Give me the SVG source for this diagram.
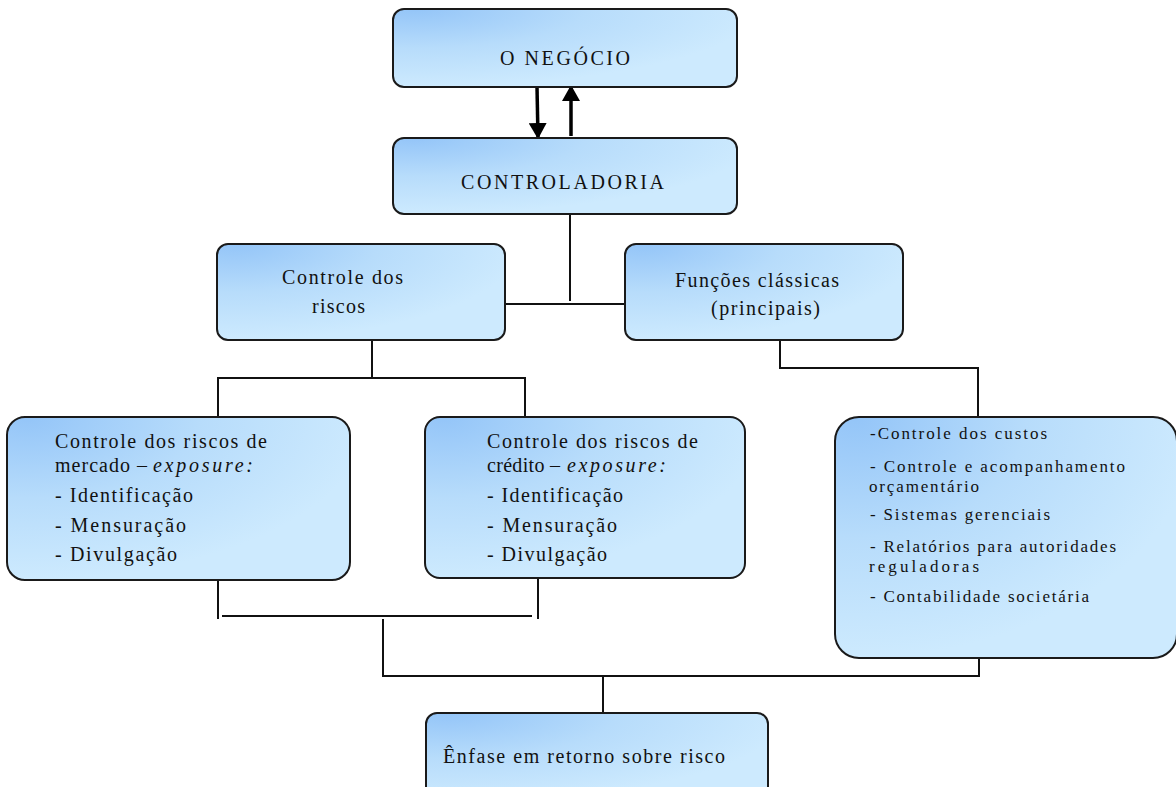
<svg xmlns="http://www.w3.org/2000/svg" width="1176" height="787" viewBox="0 0 1176 787">
  <defs>
    <radialGradient id="boxFill" cx="0.06" cy="0.0" r="1.0" fx="0.06" fy="0.0">
      <stop offset="0" stop-color="#94c5f8"/>
      <stop offset="0.5" stop-color="#b7dcfb"/>
      <stop offset="1" stop-color="#cdeafe"/>
    </radialGradient>
    <marker id="head" viewBox="0 0 16 18" refX="15" refY="9" markerWidth="16" markerHeight="18" markerUnits="userSpaceOnUse" orient="auto">
      <path d="M0,0 L16,9 L0,18 Z" fill="#000"/>
    </marker>
    <style>
      .box { fill: url(#boxFill); stroke: #1a1a1a; stroke-width: 2; }
      .wire { fill: none; stroke: #111; stroke-width: 2; }
      .arrow { fill: none; stroke: #000; stroke-width: 3.5; }
      text { font-family: "Liberation Serif", "Times New Roman", serif; fill: #111; }
      .t18 { font-size: 20px; }
      .t16 { font-size: 17px; }
      .it { font-style: italic; }
    </style>
  </defs>

  <!-- connectors -->
  <g id="connectors">
    <line class="arrow" x1="537" y1="87" x2="538" y2="138" marker-end="url(#head)"/>
    <line class="arrow" x1="571" y1="136" x2="571" y2="86" marker-end="url(#head)"/>
    <polyline class="wire" points="570,214 570,301"/>
    <polyline class="wire" points="506,304 626,304"/>
    <polyline class="wire" points="372,340 372,378"/>
    <polyline class="wire" points="218,417 218,378 525,378 525,417"/>
    <polyline class="wire" points="780,340 780,368 978,368 978,417"/>
    <polyline class="wire" points="218,580 218,619"/>
    <polyline class="wire" points="222,616 532,616"/>
    <polyline class="wire" points="538,578 538,619"/>
    <polyline class="wire" points="383,619 383,676 979,676 979,658"/>
    <polyline class="wire" points="603,676 603,713"/>
  </g>

  <g id="negocio">
    <rect class="box" x="393" y="9" width="344" height="78" rx="11"/>
    <text class="t18" x="500" y="65" textLength="130" lengthAdjust="spacing">O NEGÓCIO</text>
  </g>

  <g id="controladoria">
    <rect class="box" x="393" y="138" width="344" height="76" rx="11"/>
    <text class="t18" x="461" y="189" textLength="203" lengthAdjust="spacing">CONTROLADORIA</text>
  </g>

  <g id="controle-riscos">
    <rect class="box" x="217" y="244" width="288" height="96" rx="11"/>
    <text class="t18" x="282" y="284" textLength="121" lengthAdjust="spacing">Controle dos</text>
    <text class="t18" x="312" y="313" textLength="53" lengthAdjust="spacing">riscos</text>
  </g>

  <g id="funcoes-classicas">
    <rect class="box" x="625" y="244" width="278" height="96" rx="11"/>
    <text class="t18" x="675" y="287" textLength="164" lengthAdjust="spacing">Funções clássicas</text>
    <text class="t18" x="711" y="315" textLength="109" lengthAdjust="spacing">(principais)</text>
  </g>

  <g id="riscos-mercado">
    <rect class="box" x="7" y="417" width="343" height="163" rx="18"/>
    <text class="t18" x="55" y="448" textLength="212" lengthAdjust="spacing">Controle dos riscos de</text>
    <text class="t18" x="55" y="472" textLength="92" lengthAdjust="spacing">mercado –</text>
    <text class="t18 it" x="153" y="472" textLength="100" lengthAdjust="spacing">exposure:</text>
    <text class="t18" x="55" y="502" textLength="138" lengthAdjust="spacing">- Identificação</text>
    <text class="t18" x="55" y="532" textLength="131" lengthAdjust="spacing">- Mensuração</text>
    <text class="t18" x="55" y="561" textLength="122" lengthAdjust="spacing">- Divulgação</text>
  </g>

  <g id="riscos-credito">
    <rect class="box" x="425" y="417" width="320" height="161" rx="15"/>
    <text class="t18" x="487" y="448" textLength="211" lengthAdjust="spacing">Controle dos riscos de</text>
    <text class="t18" x="487" y="472" textLength="73" lengthAdjust="spacing">crédito –</text>
    <text class="t18 it" x="567" y="472" textLength="99" lengthAdjust="spacing">exposure:</text>
    <text class="t18" x="487" y="502" textLength="136" lengthAdjust="spacing">- Identificação</text>
    <text class="t18" x="487" y="532" textLength="130" lengthAdjust="spacing">- Mensuração</text>
    <text class="t18" x="487" y="561" textLength="120" lengthAdjust="spacing">- Divulgação</text>
  </g>

  <g id="funcoes-lista">
    <rect class="box" x="835" y="417" width="342" height="241" rx="24"/>
    <text class="t16" x="870" y="439" textLength="177" lengthAdjust="spacing">-Controle dos custos</text>
    <text class="t16" x="870" y="472" textLength="255" lengthAdjust="spacing">- Controle e acompanhamento</text>
    <text class="t16" x="869" y="492" textLength="110" lengthAdjust="spacing">orçamentário</text>
    <text class="t16" x="870" y="520" textLength="180" lengthAdjust="spacing">- Sistemas gerenciais</text>
    <text class="t16" x="870" y="552" textLength="246" lengthAdjust="spacing">- Relatórios para autoridades</text>
    <text class="t16" x="869" y="572" textLength="110" lengthAdjust="spacing">reguladoras</text>
    <text class="t16" x="870" y="602" textLength="219" lengthAdjust="spacing">- Contabilidade societária</text>
  </g>

  <g id="enfase">
    <rect class="box" x="426" y="713" width="342" height="90" rx="11"/>
    <text class="t18" x="443" y="763" textLength="282" lengthAdjust="spacing">Ênfase em retorno sobre risco</text>
  </g>
</svg>
